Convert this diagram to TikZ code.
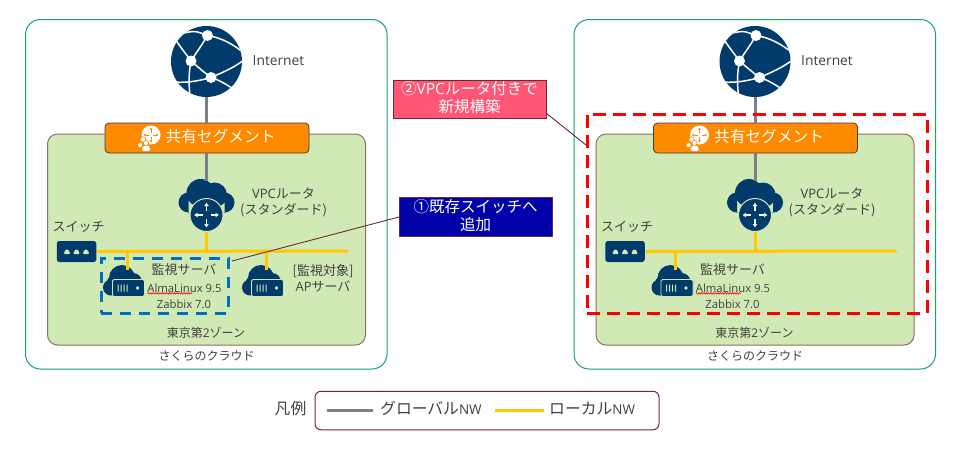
\documentclass[tikz,border=0pt]{standalone}
\usepackage{fontspec}
\setmainfont{Noto Sans CJK JP}
\newfontfamily\latf{Open Sans}
\usetikzlibrary{decorations.pathmorphing,arrows.meta}
\definecolor{navy}{HTML}{003B6B}
\definecolor{zone}{HTML}{D1E9B4}
\definecolor{zoneb}{HTML}{8F6F66}
\definecolor{outerg}{HTML}{12A860}
\definecolor{txt}{HTML}{404040}
\definecolor{gline}{HTML}{7F7F8A}
\definecolor{yline}{HTML}{FFC800}
\definecolor{seg}{HTML}{FF8A00}
\definecolor{callb}{HTML}{6B2A3A}
\definecolor{callpink}{HTML}{FF5675}
\definecolor{callblue}{HTML}{0000A8}
\definecolor{monblue}{HTML}{0070C0}
\tikzset{
 x=1pt,y=-1pt,
 outerbox/.style={draw=outerg,line width=1pt,rounded corners=15pt,fill=white,inner sep=0,outer sep=0,minimum width=361.5pt,minimum height=349.5pt},
 zonebox/.style={draw=zoneb,line width=1pt,rounded corners=10pt,fill=zone,inner sep=0,outer sep=0,minimum width=318pt,minimum height=211pt},
 segbox/.style={draw=txt,line width=.8pt,rounded corners=4pt,fill=seg,inner sep=0,outer sep=0,minimum width=204pt,minimum height=30pt},
 lbl/.style={text=txt,inner sep=0,outer sep=0,align=center,font=\fontsize{13}{16}\selectfont},
 lblz/.style={text=txt,inner sep=0,outer sep=0,align=center,font=\fontsize{12}{16}\selectfont},
 lbll/.style={text=txt,inner sep=0,outer sep=0,align=center,font=\fontsize{11.3}{13}\selectfont\latf},
 glink/.style={draw=gline,line width=3pt},
 ylink/.style={draw=yline,line width=3pt},
 callout/.style={draw=callb,line width=1pt,inner sep=0,outer sep=0,minimum width=153pt,minimum height=38.5pt},
 calltext/.style={inner sep=0,outer sep=0,align=center,text=white,font=\fontsize{15.5}{18}\selectfont},
 leader/.style={draw=callb,line width=.9pt},
 arrowmark/.style={line width=1.3pt,-{Latex[length=3.5pt,width=5pt]}},
 legtext/.style={text=txt,inner sep=0,anchor=west,font=\fontsize{15.8}{18}\selectfont},
}
\newcommand{\lat}[1]{{\latf #1}}
\newcommand{\latnw}{{\latf\fontsize{13.5}{16}\selectfont NW}}
% globe icon
\newcommand{\globeicon}[3]{%
 \node[circle,fill=navy,inner sep=0,outer sep=0,minimum size=71pt] (#1) at (#2,#3) {};
 \begin{scope}[shift={(#2,#3)}]
  \clip (0,0) circle[radius=35.5];
  \draw[white,line width=1.5pt]
   (-24,-28) .. controls (-12,-31) .. (1,-26)
   (1,-26) .. controls (14,-24) and (26,-18) .. (38,-8)
   (1,-26) .. controls (-6,-14) and (-11,-8) .. (-15.5,-.5)
   (-31,-22) .. controls (-26,-14) and (-20,-7) .. (-15.5,-.5)
   (-15.5,-.5) .. controls (-8,6) and (-1,12) .. (4.5,16)
   (4.5,16) .. controls (16,11) and (28,6) .. (38,-2)
   (4.5,16) .. controls (14,19) and (22,24) .. (30,30)
   (4.5,16) .. controls (-10,20) and (-22,22) .. (-38,20)
   (-15.5,-.5) .. controls (-18,12) and (-18,24) .. (-16,38);
  \fill[white] (1,-26) circle[radius=5.5] (-15.5,-.5) circle[radius=5.5] (4.5,16) circle[radius=5.5];
 \end{scope}}
% router icon: #2,#3 is the centre of the round badge
\newcommand{\routericon}[3]{%
 \begin{scope}[shift={(#2,#3)}]
  \fill[navy] (-6,-22) circle[radius=14] (8,-20) circle[radius=12.5] (0,-18) circle[radius=14] (-18,-12.5) circle[radius=10] (18,-12.5) circle[radius=10]
   (-18,-20) rectangle (18,-3);
  \coordinate (#1-top) at (0,-34);
 \end{scope}
 \node[circle,draw=zone,line width=1pt,fill=navy,inner sep=0,outer sep=0,minimum size=33pt] (#1) at (#2,#3) {};
 \begin{scope}[shift={(#2,#3)},white]
  \draw[arrowmark] (0,-4) -- (0,-12.5);
  \draw[arrowmark] (0,4) -- (0,12.5);
  \draw[arrowmark] (-4,0) -- (-12.5,0);
  \draw[arrowmark] (4,0) -- (12.5,0);
 \end{scope}}
% switch icon
\newcommand{\switchicon}[3]{%
 \node[fill=navy,rounded corners=2.5pt,inner sep=0,outer sep=0,minimum width=39.5pt,minimum height=21pt] (#1) at (#2,#3) {};
 \begin{scope}[shift={(#2,#3)}]
  \foreach \bx in {-9.5,0,9.5}
   \fill[zone,rounded corners=1pt] (\bx-3.2,2.6) -- (\bx-2.2,-.6) -- (\bx,-2.4) -- (\bx+2.2,-.6) -- (\bx+3.2,2.6) -- cycle;
 \end{scope}}
% server icon: #2,#3 is the centre of the server plate
\newcommand{\servericon}[3]{%
 \begin{scope}[shift={(#2,#3)}]
  \fill[navy] (-6.5,-10) circle[radius=13] (-17.5,-.5) circle[radius=8] (4.5,-6) circle[radius=9] (-12,-4) circle[radius=10] (-18,-6) rectangle (5,0);
  \fill[navy] (-17,-3) rectangle (0,7.5);
  \coordinate (#1-top) at (-1.5,-18);
 \end{scope}
 \node[draw=zone,line width=.9pt,fill=navy,rounded corners=1.5pt,inner sep=0,outer sep=0,minimum width=32pt,minimum height=17pt] (#1) at (#2,#3) {};
 \begin{scope}[shift={(#2,#3)}]
  \fill[zone] (-11,-3.5) rectangle (-9.8,3.5) (-8,-3.5) rectangle (-6.8,3.5) (-5,-3.5) rectangle (-3.8,3.5) (-2,-3.5) rectangle (-.8,3.5);
  \fill[zone] (9,0) circle[radius=1.8];
 \end{scope}}
\newcommand{\segicon}[2]{%
 \begin{scope}[shift={(#1,#2)}]
  \fill[white] (0,0) circle[radius=9.5];
  \draw[seg,line width=.9pt,-{Latex[length=2.2pt,width=3pt]}] (0,-2) -- (0,-7.5);
  \draw[seg,line width=.9pt,-{Latex[length=2.2pt,width=3pt]}] (0,2) -- (0,7.5);
  \draw[seg,line width=.9pt,-{Latex[length=2.2pt,width=3pt]}] (-2,0) -- (-7.5,0);
  \draw[seg,line width=.9pt,-{Latex[length=2.2pt,width=3pt]}] (2,0) -- (7.5,0);
  \fill[white,draw=seg,line width=.6pt] (-8,4.5) circle[radius=2.8];
  \fill[white,draw=seg,line width=.6pt] (-5,8) circle[radius=2.6];
  \fill[white,rounded corners=1.5pt] (-13.5,12) -- (-12.5,8) -- (-9,7.5) -- (-9,12) -- cycle;
  \fill[white,rounded corners=1.5pt] (-9,16) -- (-9,12) -- (-6,10.5) -- (-3,10.5) -- (-1,12) -- (-1,16) -- cycle;
 \end{scope}}
% common panel: #1 prefix, #2 x offset
\newcommand{\panel}[2]{%
 \begin{scope}[shift={(#2,0)}]
  \node[outerbox] (#1outer) at (206.25,194.25) {};
  \node[zonebox] (#1zone) at (206.5,239.5) {};
  \globeicon{#1globe}{206.5}{61.5}
  \node[lbl,font=\fontsize{13.8}{15}\selectfont\latf] (#1inet) at (278.5,60.5) {Internet};
  \routericon{#1rt}{206.5}{215}
  \node[lbl] (#1rtl) at (283.5,202) {\lat{VPC}ルータ\\(スタンダード)};
  \switchicon{#1sw}{76.5}{251.5}
  \node[lbl] (#1swl) at (78.5,227) {スイッチ};
  \coordinate (#1busend) at (348,251);
  \coordinate (#1bus) at (206.5,251);
  \servericon{#1srv}{128.5}{288}
  \node[lbl] (#1srvl) at (184,270) {監視サーバ};
  \node[lbll] (#1srva) at (184.5,288) {AlmaLinux 9.5};
  \node[lbll] (#1srvz) at (184,304.5) {Zabbix 7.0};
  \draw[red,line width=.6pt,decorate,decoration={zigzag,segment length=2.4pt,amplitude=.7pt}] (#1srva.south west)++(0,1) -- ++(45,0);
  \node[lblz] (#1zl) at (206,333) {東京第\lat{2}ゾーン};
  \node[lblz] (#1cl) at (206.5,356) {さくらのクラウド};
  \node[segbox] (#1seg) at (207,138) {};
  \draw[glink] (#1globe.south) -- (#1globe.south |- #1seg.north);
  \segicon{151}{135}
  \node[text=white,inner sep=0,font=\fontsize{15.7}{17}\selectfont] (#1segl) at (220.5,136.5) {共有セグメント};
  \draw[glink] (#1rt-top |- #1seg.south) -- (#1rt-top);
  \draw[ylink] (#1sw.east) ++(1,0) -- (#1busend);
  \draw[ylink] (#1rt.south) -- (#1bus);
  \draw[ylink] (#1srv-top |- #1bus) -- (#1srv-top);
 \end{scope}}
\begin{document}
\begin{tikzpicture}
\useasboundingbox (0,0) rectangle (960,448);
\fill[white] (0,0) rectangle (960,448);
\panel{L}{0}
\panel{R}{548.5}
% left-only parts
\servericon{Lap}{267.5}{288}
\draw[ylink] (Lap-top |- Lbus) -- (Lap-top);
\node[lbl] (Lapl) at (323,278.5) {[監視対象]\\\lat{AP}サーバ};
\node[draw=monblue,line width=3pt,dash pattern=on 11pt off 8pt,inner sep=0,outer sep=0,minimum width=127pt,minimum height=55pt] (Lmon) at (164.5,285.5) {};
% right-only dashed box
\node[draw=red,line width=3pt,dash pattern=on 13pt off 7pt,inner sep=0,outer sep=0,minimum width=340pt,minimum height=199pt] (Rnew) at (757,213.5) {};
% callouts
\node[callout,fill=callpink] (c2) at (469.5,99.25) {};
\node[calltext] (c2t) at (469.5,97.5) {②\lat{VPC}ルータ付きで\\新規構築};
\node[callout,fill=callblue] (c1) at (475.5,217) {};
\node[calltext] (c1t) at (475.5,215.5) {①既存スイッチへ\\追加};
\coordinate (c2a) at (546,113);
\coordinate (c2b) at (586,145);
\draw[leader] (c2a) -- (c2b);
\coordinate (c1b) at (232,261);
\draw[leader] (c1.west) -- (c1b);
% legend
\node[draw=callb,line width=1pt,rounded corners=6pt,inner sep=0,outer sep=0,minimum width=344pt,minimum height=38.5pt] (leg) at (487,410.5) {};
\node[legtext] (legt) at (274.5,408.5) {凡例};
\coordinate (g1) at (327,410);
\coordinate (g2) at (373,410);
\draw[glink] (g1) -- (g2);
\node[legtext] (gl) at (380,408.5) {グローバル\latnw};
\coordinate (y1) at (495,410);
\coordinate (y2) at (544,410);
\draw[ylink] (y1) -- (y2);
\node[legtext] (yl) at (549,408.5) {ローカル\latnw};
\end{tikzpicture}
\end{document}
